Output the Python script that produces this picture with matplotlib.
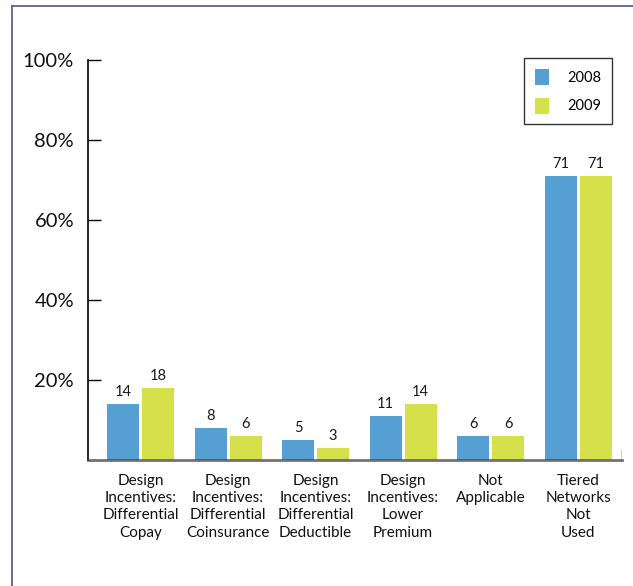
import matplotlib
matplotlib.use("Agg")
import matplotlib.pyplot as plt
from matplotlib.lines import Line2D
from matplotlib.patches import Patch
import numpy as np

# Percent of employers by tiered network approach
categories = [
    "Design\nIncentives:\nDifferential\nCopay",
    "Design\nIncentives:\nDifferential\nCoinsurance",
    "Design\nIncentives:\nDifferential\nDeductible",
    "Design\nIncentives:\nLower\nPremium",
    "Not\nApplicable",
    "Tiered\nNetworks\nNot\nUsed",
]
years = ["2008", "2009"]
values_2008 = [14, 8, 5, 11, 6, 71]
values_2009 = [18, 6, 3, 14, 6, 71]
yticks = [20, 40, 60, 80, 100]
ytick_labels = ["20%", "40%", "60%", "80%", "100%"]

blue = "#569fd3"
green = "#d5e04b"

plt.rcParams["font.family"] = ["Lato", "DejaVu Sans"]

fig = plt.figure(figsize=(6.33, 5.86), dpi=100)
ax = fig.add_axes([0.139, 0.215, 0.8435, 0.6826])

x = np.arange(len(categories))
w = 0.366
off = 0.2
b1 = ax.bar(x - off, values_2008, w, color=blue, zorder=2)
b2 = ax.bar(x + off, values_2009, w, color=green, zorder=2)

for bars, vals in ((b1, values_2008), (b2, values_2009)):
    for bar, v in zip(bars, vals):
        ax.text(bar.get_x() + bar.get_width() / 2, v + 1.3, str(v),
                ha="center", va="bottom", fontsize=10.5, color="#1a1a1a")

ax.set_xlim(-0.6, 5.5)
ax.set_ylim(0, 100)
ax.set_yticks(yticks)
ax.set_yticklabels(ytick_labels, fontsize=14.5, color="#111111")
ax.tick_params(axis="y", direction="in", length=9, width=1, pad=10)
ax.set_xticks(x)
ax.set_xticklabels(categories, fontsize=11, linespacing=1.3, color="#111111")
ax.tick_params(axis="x", length=0, pad=10)

for s in ("top", "right"):
    ax.spines[s].set_visible(False)
ax.spines["left"].set_color("black")
ax.spines["left"].set_linewidth(1.2)
ax.spines["bottom"].set_color("#444444")
ax.spines["bottom"].set_linewidth(2)
ax.spines["bottom"].set_alpha(0.75)
ax.spines["bottom"].set_zorder(3)
ax.axvline(5.5, ymax=0.025, color="black", lw=1)

handles = [Patch(facecolor=blue, label=years[0]),
           Patch(facecolor=green, label=years[1])]
leg = ax.legend(handles=handles, loc="upper right",
                bbox_to_anchor=(0.981, 1.004), frameon=True, fancybox=False,
                edgecolor="black", fontsize=10.5, handlelength=1.0,
                handleheight=1.3, handletextpad=1.2, borderpad=0.75,
                labelspacing=0.85, borderaxespad=0)
leg.get_frame().set_linewidth(1)

# page frame lines along the top and left edges
frame_color = "#5b5fa0"
fig.add_artist(Line2D([12 / 633, 12 / 633], [0, 1 - 5.5 / 586],
                      transform=fig.transFigure, color=frame_color, lw=1.3))
fig.add_artist(Line2D([12 / 633, 1], [1 - 5.5 / 586, 1 - 5.5 / 586],
                      transform=fig.transFigure, color=frame_color, lw=1.3))

fig.savefig("out.png", dpi=100)
